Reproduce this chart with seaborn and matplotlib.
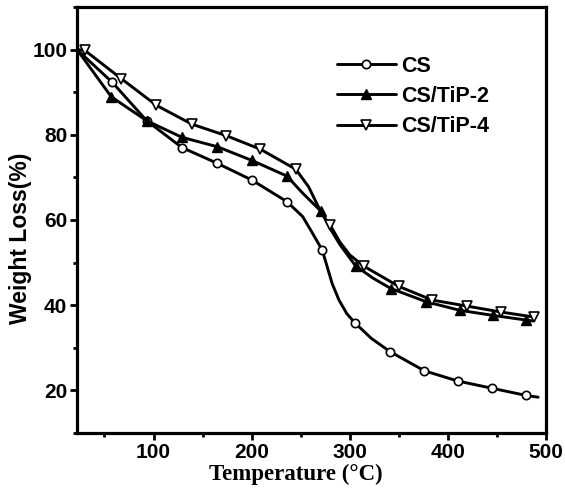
import matplotlib
matplotlib.use("Agg")
import matplotlib.pyplot as plt
from matplotlib.lines import Line2D
from matplotlib.ticker import MultipleLocator
import seaborn as sns
import pandas as pd

# ---- data ----
cs_temp = [22, 58, 93, 129, 165, 200, 236, 252, 262, 272, 277, 282, 289, 297, 305, 322, 341, 376, 410, 445, 480, 492]
cs_wt   = [100, 92.3, 83.3, 77.0, 73.3, 69.4, 64.3, 60.8, 56.9, 52.9, 49.0, 45.1, 41.2, 38.0, 35.9, 32.2, 29.1, 24.6, 22.2, 20.5, 18.8, 18.4]
cs_marker_temp = [58, 93, 129, 165, 200, 236, 272, 305, 341, 376, 410, 445, 480]

tip2_temp = [22, 57, 93, 129, 165, 200, 236, 252, 263, 271, 280, 290, 306, 324, 342, 378, 412, 446, 480, 486]
tip2_wt   = [100, 88.9, 83.3, 79.4, 77.2, 74.0, 70.3, 66.3, 63.8, 62.0, 58.0, 54.2, 49.2, 46.3, 43.9, 40.8, 38.8, 37.6, 36.5, 36.3]
tip2_marker_temp = [57, 93, 129, 165, 200, 236, 271, 306, 342, 378, 412, 446, 480]

tip4_temp = [22, 30, 67, 103, 139, 174, 209, 245, 258, 268, 274, 280, 290, 300, 314, 350, 384, 419, 454, 488]
tip4_wt   = [100, 99.8, 93.2, 86.9, 82.5, 79.8, 76.6, 71.9, 67.8, 63.1, 60.6, 58.8, 54.8, 51.8, 49.2, 44.4, 41.2, 39.8, 38.4, 37.2]
tip4_marker_temp = [30, 67, 103, 139, 174, 209, 245, 280, 314, 350, 384, 419, 454, 488]

series_names = ["CS", "CS/TiP-2", "CS/TiP-4"]
x_ticks = [100, 200, 300, 400, 500]
y_ticks = [20, 40, 60, 80, 100]

sns.set_theme(style="white")
plt.rcParams["font.family"] = ["Liberation Sans", "DejaVu Sans"]
plt.rcParams.update({"text.color": "black", "axes.labelcolor": "black",
                     "xtick.color": "black", "ytick.color": "black"})

fig = plt.figure(figsize=(5.65, 4.99), dpi=100)
ax = fig.add_axes([0.1363, 0.1323, 0.8301, 0.8537])

styles = [
    dict(marker="o", mfc="white", mec="black", ms=6, mew=1.2),
    dict(marker="^", mfc="black", mec="black", ms=6.5, mew=1.0),
    dict(marker="v", mfc="white", mec="black", ms=7, mew=1.2),
]
datasets = [(cs_temp, cs_wt, cs_marker_temp),
            (tip2_temp, tip2_wt, tip2_marker_temp),
            (tip4_temp, tip4_wt, tip4_marker_temp)]

handles = []
for name, (xs, ys, mt), st in zip(series_names, datasets, styles):
    df = pd.DataFrame({"T": xs, "W": ys})
    mk = [xs.index(t) for t in mt]
    sns.lineplot(data=df, x="T", y="W", ax=ax, color="black", lw=2.1,
                 markevery=mk, sort=False, estimator=None, **st)
    handles.append(Line2D([0], [0], color="black", lw=2.1, **st))

ax.set_xlim(22, 500)
ax.set_ylim(10, 110)
ax.set_xticks(x_ticks)
ax.set_yticks(y_ticks)
ax.xaxis.set_minor_locator(MultipleLocator(50))
ax.yaxis.set_minor_locator(MultipleLocator(10))

for s in ax.spines.values():
    s.set_color("black")
    s.set_linewidth(2.3)

ax.tick_params(axis="both", which="major", direction="out", length=5, width=2,
               color="black", labelsize=15, pad=2, bottom=True, left=True)
ax.tick_params(axis="both", which="minor", direction="out", length=3, width=2,
               color="black", bottom=True, left=True)
for lab in ax.get_xticklabels() + ax.get_yticklabels():
    lab.set_fontweight("bold")

ax.set_xlabel("Temperature (°C)", fontsize=16.5, fontweight="bold",
              family=["Liberation Serif", "DejaVu Serif"])
ax.xaxis.set_label_coords(0.467, -0.072)
ax.set_ylabel("Weight Loss(%)", fontsize=16.5, fontweight="bold")
ax.yaxis.set_label_coords(-0.096, 0.458)

leg = ax.legend(handles, series_names, loc="upper left", bbox_to_anchor=(0.554, 0.886),
                frameon=False, handlelength=2.75, handletextpad=0.25, labelspacing=0.44,
                borderpad=0, borderaxespad=0, prop=dict(weight="bold", size=15.5))

fig.savefig("out.png", dpi=100)
